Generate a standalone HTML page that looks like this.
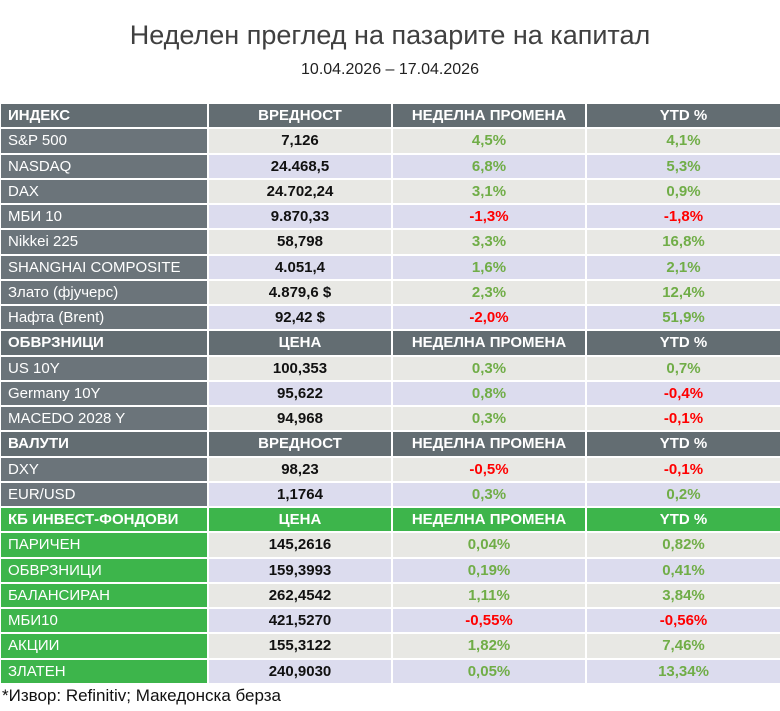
<!DOCTYPE html>
<html><head><meta charset="utf-8"><style>
body{margin:0;width:780px;height:711px;background:#fff;font-family:"Liberation Sans","DejaVu Sans",sans-serif;position:relative;overflow:hidden}
.t1{position:absolute;top:20px;left:0;width:780px;text-align:center;font-size:27px;color:#404040}
.t2{position:absolute;top:61px;left:0;width:780px;text-align:center;font-size:16px;color:#222}
table{position:absolute;top:102px;left:-1px;border-collapse:collapse;table-layout:fixed;width:781px}
td{border:2px solid #fff;height:23.26px;padding:0;font-size:15px;text-align:center;font-weight:bold;color:#111;white-space:nowrap;overflow:hidden}
td:first-child{text-align:left;padding-left:7px;font-weight:normal;color:#fff;background:#6b747a}
tr.h td{background:#636d72;color:#fff;font-weight:bold}
tr.h td:first-child{font-weight:bold}
tr.g td{background:#3db54b;color:#fff;font-weight:bold}
tr.gg td:first-child{background:#3db54b}
tr.a td{background:#e8e8e4}
tr.b td{background:#dcdcee}
tr.a td:first-child,tr.b td:first-child{background:#6b747a}
tr.gg.a td:first-child,tr.gg.b td:first-child{background:#3db54b}
.p{color:#70ad47!important}.n{color:#f00!important}
.f{position:absolute;top:686px;left:2px;font-size:17px;color:#111}
</style></head><body>
<div class="t1">Неделен преглед на пазарите на капитал</div>
<div class="t2">10.04.2026 – 17.04.2026</div>
<table>
<colgroup><col style="width:208px"><col style="width:184px"><col style="width:194px"><col style="width:195px"></colgroup>
<tr class="h"><td>ИНДЕКС</td><td>ВРЕДНОСТ</td><td>НЕДЕЛНА ПРОМЕНА</td><td>YTD %</td></tr>
<tr class="a"><td>S&amp;P 500</td><td>7,126</td><td class="p">4,5%</td><td class="p">4,1%</td></tr>
<tr class="b"><td>NASDAQ</td><td>24.468,5</td><td class="p">6,8%</td><td class="p">5,3%</td></tr>
<tr class="a"><td>DAX</td><td>24.702,24</td><td class="p">3,1%</td><td class="p">0,9%</td></tr>
<tr class="b"><td>МБИ 10</td><td>9.870,33</td><td class="n">-1,3%</td><td class="n">-1,8%</td></tr>
<tr class="a"><td>Nikkei 225</td><td>58,798</td><td class="p">3,3%</td><td class="p">16,8%</td></tr>
<tr class="b"><td>SHANGHAI COMPOSITE</td><td>4.051,4</td><td class="p">1,6%</td><td class="p">2,1%</td></tr>
<tr class="a"><td>Злато (фјучерс)</td><td>4.879,6 $</td><td class="p">2,3%</td><td class="p">12,4%</td></tr>
<tr class="b"><td>Нафта (Brent)</td><td>92,42 $</td><td class="n">-2,0%</td><td class="p">51,9%</td></tr>
<tr class="h"><td>ОБВРЗНИЦИ</td><td>ЦЕНА</td><td>НЕДЕЛНА ПРОМЕНА</td><td>YTD %</td></tr>
<tr class="a"><td>US 10Y</td><td>100,353</td><td class="p">0,3%</td><td class="p">0,7%</td></tr>
<tr class="b"><td>Germany 10Y</td><td>95,622</td><td class="p">0,8%</td><td class="n">-0,4%</td></tr>
<tr class="a"><td>MACEDO 2028 Y</td><td>94,968</td><td class="p">0,3%</td><td class="n">-0,1%</td></tr>
<tr class="h"><td>ВАЛУТИ</td><td>ВРЕДНОСТ</td><td>НЕДЕЛНА ПРОМЕНА</td><td>YTD %</td></tr>
<tr class="a"><td>DXY</td><td>98,23</td><td class="n">-0,5%</td><td class="n">-0,1%</td></tr>
<tr class="b"><td>EUR/USD</td><td>1,1764</td><td class="p">0,3%</td><td class="p">0,2%</td></tr>
<tr class="g"><td>КБ ИНВЕСТ-ФОНДОВИ</td><td>ЦЕНА</td><td>НЕДЕЛНА ПРОМЕНА</td><td>YTD %</td></tr>
<tr class="a gg"><td>ПАРИЧЕН</td><td>145,2616</td><td class="p">0,04%</td><td class="p">0,82%</td></tr>
<tr class="b gg"><td>ОБВРЗНИЦИ</td><td>159,3993</td><td class="p">0,19%</td><td class="p">0,41%</td></tr>
<tr class="a gg"><td>БАЛАНСИРАН</td><td>262,4542</td><td class="p">1,11%</td><td class="p">3,84%</td></tr>
<tr class="b gg"><td>МБИ10</td><td>421,5270</td><td class="n">-0,55%</td><td class="n">-0,56%</td></tr>
<tr class="a gg"><td>АКЦИИ</td><td>155,3122</td><td class="p">1,82%</td><td class="p">7,46%</td></tr>
<tr class="b gg"><td>ЗЛАТЕН</td><td>240,9030</td><td class="p">0,05%</td><td class="p">13,34%</td></tr>
</table>
<div class="f">*Извор: Refinitiv; Македонска берза</div>
</body></html>
